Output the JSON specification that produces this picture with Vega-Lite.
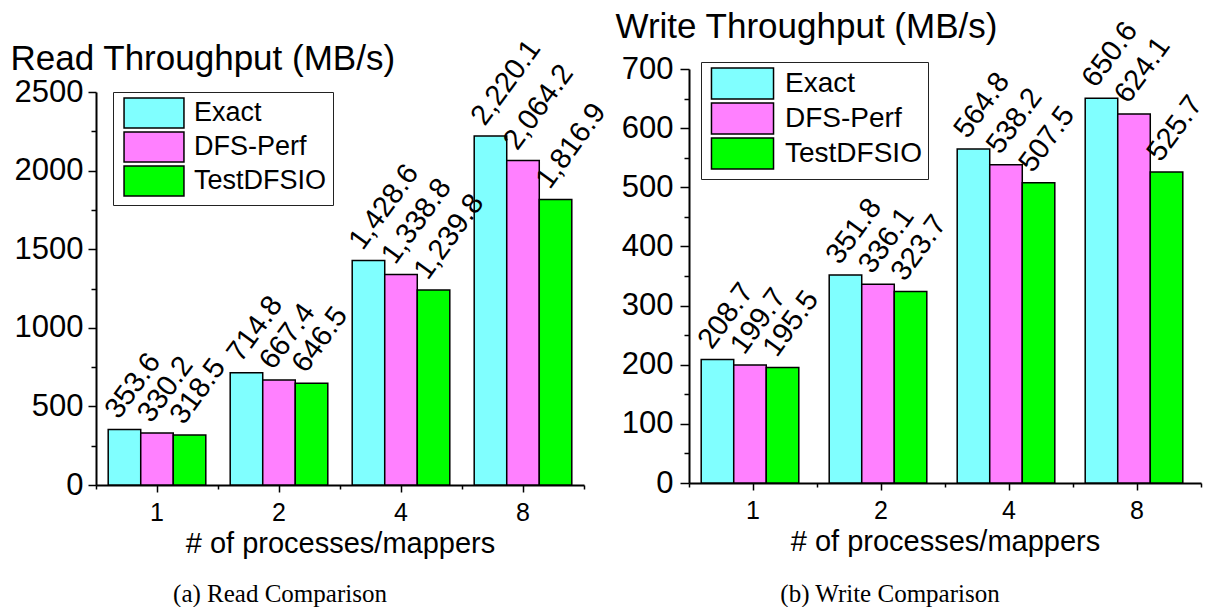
{
  "$schema": "https://vega.github.io/schema/vega-lite/v6.json",
  "padding": {"left": 10, "top": 9, "right": 0, "bottom": 0},
  "autosize": {"type": "pad"},
  "background": "white",
  "bounds": "flush",
  "spacing": 105,
  "resolve": {"scale": {"color": "independent"}, "legend": {"color": "independent"}},
  "config": {
    "view": {"stroke": null},
    "font": "Liberation Sans",
    "axis": {
      "domainColor": "black", "domainWidth": 2, "tickColor": "black", "tickWidth": 1.5,
      "labelColor": "black", "titleColor": "black", "labelFont": "Liberation Sans",
      "titleFont": "Liberation Sans", "titleFontWeight": "normal", "grid": false
    },
    "legend": {
      "labelFont": "Liberation Sans", "labelColor": "black", "fillColor": "white",
      "strokeColor": "#222", "padding": 6, "symbolStrokeColor": "black",
      "symbolStrokeWidth": 1.5, "symbolOpacity": 1, "symbolType": "M-2.14,-1.07H2.14V1.07H-2.14Z"
    }
  },
  "datasets": {
    "read": [
      {"procs": "1", "method": "Exact", "value": 353.6},
      {"procs": "1", "method": "DFS-Perf", "value": 330.2},
      {"procs": "1", "method": "TestDFSIO", "value": 318.5},
      {"procs": "2", "method": "Exact", "value": 714.8},
      {"procs": "2", "method": "DFS-Perf", "value": 667.4},
      {"procs": "2", "method": "TestDFSIO", "value": 646.5},
      {"procs": "4", "method": "Exact", "value": 1428.6},
      {"procs": "4", "method": "DFS-Perf", "value": 1338.8},
      {"procs": "4", "method": "TestDFSIO", "value": 1239.8},
      {"procs": "8", "method": "Exact", "value": 2220.1},
      {"procs": "8", "method": "DFS-Perf", "value": 2064.2},
      {"procs": "8", "method": "TestDFSIO", "value": 1816.9}
    ],
    "write": [
      {"procs": "1", "method": "Exact", "value": 208.7},
      {"procs": "1", "method": "DFS-Perf", "value": 199.7},
      {"procs": "1", "method": "TestDFSIO", "value": 195.5},
      {"procs": "2", "method": "Exact", "value": 351.8},
      {"procs": "2", "method": "DFS-Perf", "value": 336.1},
      {"procs": "2", "method": "TestDFSIO", "value": 323.7},
      {"procs": "4", "method": "Exact", "value": 564.8},
      {"procs": "4", "method": "DFS-Perf", "value": 538.2},
      {"procs": "4", "method": "TestDFSIO", "value": 507.5},
      {"procs": "8", "method": "Exact", "value": 650.6},
      {"procs": "8", "method": "DFS-Perf", "value": 624.1},
      {"procs": "8", "method": "TestDFSIO", "value": 525.7}
    ]
  },
  "hconcat": [
    {
      "width": 488,
      "height": 416,
      "data": {"name": "read"},
      "title": {"text": "(a) Read Comparison", "orient": "bottom", "anchor": "middle", "frame": "group", "dx": -60, "offset": 24, "font": "Liberation Serif", "fontSize": 25, "fontWeight": "normal", "color": "black"},
      "resolve": {"axis": {"x": "independent"}},
      "encoding": {
        "xOffset": {"field": "method", "type": "nominal", "sort": ["Exact", "DFS-Perf", "TestDFSIO"], "scale": {"paddingInner": 0, "paddingOuter": 0.375}},
        "y": {
          "field": "value", "type": "quantitative",
          "scale": {"domain": [0, 2500], "range": [416, 23], "nice": false},
          "axis": {
            "values": [0, 250, 500, 750, 1000, 1250, 1500, 1750, 2000, 2250, 2500],
            "format": "d",
            "labelExpr": "datum.value % 500 === 0 ? datum.label : ''",
            "tickSize": {"condition": {"test": "datum.value % 500 === 0", "value": 8}, "value": 5},
            "labelFontSize": 31, "labelPadding": 5,
            "title": "Read Throughput (MB/s)", "titleAngle": 0, "titleAlign": "left",
            "titleBaseline": "alphabetic", "titleX": -86, "titleY": 0, "titleFontSize": 35
          }
        }
      },
      "layer": [
        {
          "mark": {"type": "bar", "stroke": "black", "strokeWidth": 1.5},
          "encoding": {
            "x": {
              "field": "procs", "type": "ordinal", "sort": ["1", "2", "4", "8"],
              "scale": {"paddingInner": 0, "paddingOuter": 0},
              "axis": {"orient": "bottom", "title": "# of processes/mappers", "labelAngle": 0, "labelFontSize": 25, "tickSize": 7, "labelPadding": 8, "titleFontSize": 29, "titlePadding": 4}
            },
            "color": {
              "field": "method", "type": "nominal",
              "scale": {"domain": ["Exact", "DFS-Perf", "TestDFSIO"], "range": ["#80FFFF", "#FF80FF", "#00FF00"]},
              "legend": {"orient": "none", "legendX": 17, "legendY": 23, "title": null, "symbolSize": 784, "symbolOffset": 20, "labelOffset": 25, "labelFontSize": 27, "rowPadding": -2}
            }
          }
        },
        {
          "mark": {"type": "text", "angle": -54, "align": "left", "baseline": "alphabetic", "dx": 4, "dy": -10, "fontSize": 29, "color": "black"},
          "encoding": {
            "x": {
              "field": "procs", "type": "ordinal", "sort": ["1", "2", "4", "8"],
              "axis": {"orient": "bottom", "title": null, "labels": false, "domain": false, "bandPosition": 1, "tickExtra": true, "tickSize": 4}
            },
            "text": {"field": "value", "type": "quantitative", "format": ",.1f"}
          }
        }
      ]
    },
    {
      "width": 512,
      "height": 414,
      "data": {"name": "write"},
      "title": {"text": "(b) Write Comparison", "orient": "bottom", "anchor": "middle", "frame": "group", "dx": -55, "offset": 26, "font": "Liberation Serif", "fontSize": 25, "fontWeight": "normal", "color": "black"},
      "resolve": {"axis": {"x": "independent"}},
      "encoding": {
        "xOffset": {"field": "method", "type": "nominal", "sort": ["Exact", "DFS-Perf", "TestDFSIO"], "scale": {"paddingInner": 0, "paddingOuter": 0.375}},
        "y": {
          "field": "value", "type": "quantitative",
          "scale": {"domain": [0, 700], "nice": false},
          "axis": {
            "values": [0, 50, 100, 150, 200, 250, 300, 350, 400, 450, 500, 550, 600, 650, 700],
            "format": "d",
            "labelExpr": "datum.value % 100 === 0 ? datum.label : ''",
            "tickSize": {"condition": {"test": "datum.value % 100 === 0", "value": 9}, "value": 5},
            "labelFontSize": 31, "labelPadding": 7,
            "title": "Write Throughput (MB/s)", "titleAngle": 0, "titleAlign": "left",
            "titleBaseline": "alphabetic", "titleX": -74, "titleY": -32, "titleFontSize": 35
          }
        }
      },
      "layer": [
        {
          "mark": {"type": "bar", "stroke": "black", "strokeWidth": 1.5},
          "encoding": {
            "x": {
              "field": "procs", "type": "ordinal", "sort": ["1", "2", "4", "8"],
              "scale": {"paddingInner": 0, "paddingOuter": 0},
              "axis": {"orient": "bottom", "title": "# of processes/mappers", "labelAngle": 0, "labelFontSize": 25, "tickSize": 7, "labelPadding": 8, "titleFontSize": 29, "titlePadding": 4}
            },
            "color": {
              "field": "method", "type": "nominal",
              "scale": {"domain": ["Exact", "DFS-Perf", "TestDFSIO"], "range": ["#80FFFF", "#FF80FF", "#00FF00"]},
              "legend": {"orient": "none", "legendX": 12, "legendY": -7, "title": null, "symbolSize": 841, "symbolOffset": 20, "labelOffset": 27, "labelFontSize": 28, "rowPadding": -4}
            }
          }
        },
        {
          "mark": {"type": "text", "angle": -54, "align": "left", "baseline": "alphabetic", "dx": 4, "dy": -10, "fontSize": 29, "color": "black"},
          "encoding": {
            "x": {
              "field": "procs", "type": "ordinal", "sort": ["1", "2", "4", "8"],
              "axis": {"orient": "bottom", "title": null, "labels": false, "domain": false, "bandPosition": 1, "tickExtra": true, "tickSize": 4}
            },
            "text": {"field": "value", "type": "quantitative", "format": ",.1f"}
          }
        }
      ]
    }
  ]
}
